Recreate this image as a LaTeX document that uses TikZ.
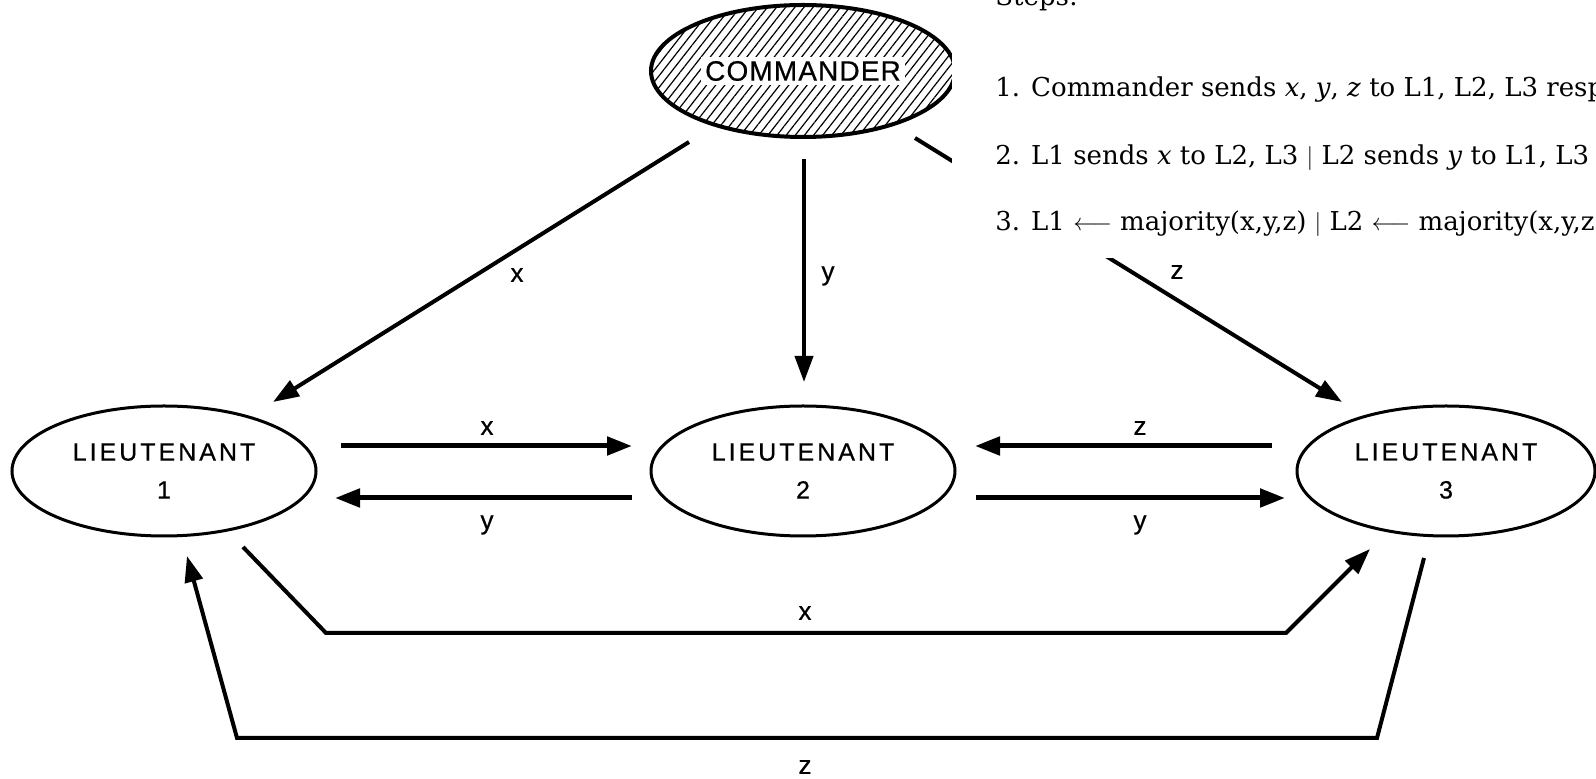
\documentclass[tikz,border=0pt]{standalone}
\usepackage{fontspec}
\setmainfont{DejaVu Serif}
\newfontfamily\labfont[FakeBold=0.6]{Liberation Sans}
\newfontfamily\ltfont[FakeBold=0.6,LetterSpace=12]{Liberation Sans}
\newfontfamily\cmdfont[FakeBold=0.6,LetterSpace=4]{Liberation Sans}
\usetikzlibrary{arrows.meta,patterns.meta,shapes.geometric}
\begin{document}
\begin{tikzpicture}[x=0.5pt,y=-0.5pt,
  lt/.style={ellipse, draw, line width=1.5pt, inner sep=0pt, align=center,
    minimum height=65pt, font=\ltfont\fontsize{12.5}{19}\selectfont},
  arr/.style={line width=2pt, -{Triangle[length=13pt,width=9pt]}},
  harr/.style={line width=2.5pt, -{Triangle[length=12.5pt,width=9pt]}},
  lab/.style={font=\labfont\fontsize{13}{15}\selectfont, inner sep=0pt},
  steptext/.style={anchor=base west, inner sep=0pt, font=\fontsize{13}{15}\selectfont}
]
\useasboundingbox (0,0) rectangle (1596,779);
\clip (0,0) rectangle (1596,779);

% nodes
\node[ellipse, draw, line width=2pt,
  pattern={Lines[angle=52,distance=3.6pt,line width=0.6pt]},
  minimum width=152pt, minimum height=66pt] (C) at (803,71) {};
\node[fill=white, inner sep=2pt, font=\cmdfont\fontsize{14}{16}\selectfont] (Ct) at (C) {COMMANDER};
\node[lt, minimum width=152pt] (L1) at (164,471) {LIEUTENANT\\1};
\node[lt, minimum width=152pt] (L2) at (803,471) {LIEUTENANT\\2};
\node[lt, minimum width=149pt] (L3) at (1446,471) {LIEUTENANT\\3};

% commander connectors
\draw[arr] ([shift={(-114,71)}]C.center) -- ([shift={(109,-69)}]L1.center);
\draw[arr] ([shift={(1,88)}]C.center) -- ([shift={(1,-89)}]L2.center);
\draw[arr] ([shift={(112,67)}]C.center) -- ([shift={(-104,-69)}]L3.center);
\node[lab] (cx) at (517,275) {x};
\node[lab] (cy) at (828,276) {y};
\node[lab] (cz) at (1177,272) {z};

% horizontal connectors
\draw[harr] ([shift={(177,-25)}]L1.center) -- ([shift={(-171,-25)}]L2.center);
\draw[harr] ([shift={(-171,27)}]L2.center) -- ([shift={(171,27)}]L1.center);
\draw[harr] ([shift={(-174,-25)}]L3.center) -- ([shift={(172,-25)}]L2.center);
\draw[harr] ([shift={(173,27)}]L2.center) -- ([shift={(-161,27)}]L3.center);
\node[lab] (h1) at (487,428) {x};
\node[lab] (h2) at (487,525) {y};
\node[lab] (h3) at (1140,428) {z};
\node[lab] (h4) at (1140,525) {y};

% lower connectors
\draw[arr] ([shift={(79,76)}]L1.center) -- (326,633) -- (1286,633) -- ([shift={(-76,78)}]L3.center);
\draw[arr] ([shift={(-22,87)}]L3.center) -- (1377,738) -- (237,738) -- ([shift={(23,85)}]L1.center);
\node[lab] (bx) at (805,613) {x};
\node[lab] (bz) at (805,767) {z};

% overlay panel with steps
\fill[white] (952,0) rectangle (1596,258);
\node[steptext] (s0) at (995,6) {Steps:};
\node[steptext] (s1) at (995,97) {1. Commander sends \textit{x}, \textit{y}, \textit{z} to L1, L2, L3 respectively};
\node[steptext] (s2) at (995,165) {2. L1 sends \textit{x} to L2, L3 $\mid$ L2 sends \textit{y} to L1, L3};
\node[steptext] (s3) at (995,231) {3. L1 $\longleftarrow$ majority(x,y,z) $\mid$ L2 $\longleftarrow$ majority(x,y,z)};
\end{tikzpicture}
\end{document}
